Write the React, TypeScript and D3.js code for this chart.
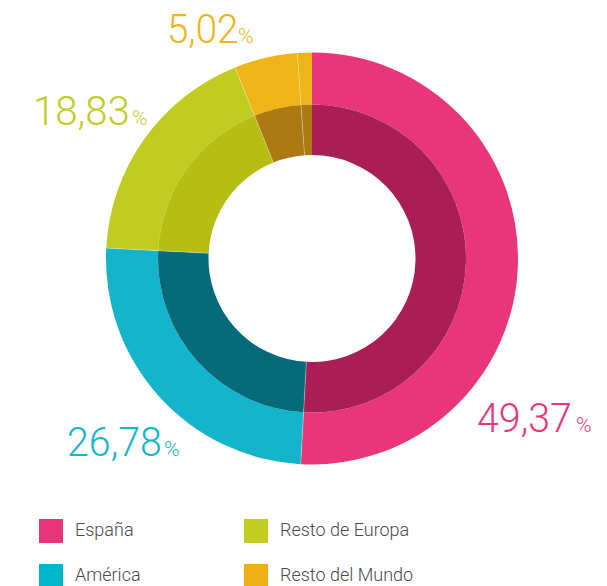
import React from "react";
import * as d3 from "d3";

// Categories and their labelled shares (%)
const categories = ["España", "América", "Resto de Europa", "Resto del Mundo"];
const shares = [49.37, 26.78, 18.83, 5.02];
// Slice sizes as drawn in the picture (Resto del Mundo shows two pieces)
const sliceValues = [50.86, 24.93, 18.1, 4.95, 1.14];
const sliceCategory = [0, 1, 2, 3, 3];

const outerColors = ["#E9367A", "#14B5CB", "#C1CC23", "#EEB418"];
const innerColors = ["#A91F55", "#066A78", "#B6BD13", "#AD7913"];
const legendColors = ["#E8357A", "#00B6CD", "#C2CD23", "#EEB116"];

const W = 607;
const H = 586;
const cx = 312;
const cy = 258.5;
const R_OUT = 206;
const R_MID = 154;
const R_IN = 103.5;

// label layout (left x, baseline y, horizontal squeeze, percent x)
const labelLayout = [
  { x: 477, y: 432, sx: 0.96, px: 576 },
  { x: 67, y: 456, sx: 0.96, px: 164 },
  { x: 33, y: 125, sx: 0.98, px: 132 },
  { x: 167, y: 43, sx: 0.94, px: 238 },
];
const legendLayout = [
  { x: 39, y: 519 },
  { x: 39, y: 564 },
  { x: 244, y: 519 },
  { x: 244, y: 564 },
];

const FONT = "Roboto, 'Open Sans', sans-serif";

export default function App() {
  const pie = d3
    .pie<number>()
    .sort(null)
    .value((d) => d)
    .startAngle(0)
    .endAngle(2 * Math.PI);
  const arcs = pie(sliceValues);
  const outerArc = d3.arc<d3.PieArcDatum<number>>().innerRadius(R_MID).outerRadius(R_OUT);
  const innerArc = d3.arc<d3.PieArcDatum<number>>().innerRadius(R_IN).outerRadius(R_MID);
  const fmt = (v: number) => v.toFixed(2).replace(".", ",");

  return (
    <svg
      width={W}
      height={H}
      style={{ position: "absolute", left: 0, top: 0, background: "#fff" }}
    >
      <g transform={`translate(${cx},${cy})`}>
        {arcs.map((a, i) => (
          <path key={"o" + i} d={outerArc(a) || ""} fill={outerColors[sliceCategory[i]]} />
        ))}
        {arcs.map((a, i) => (
          <path key={"i" + i} d={innerArc(a) || ""} fill={innerColors[sliceCategory[i]]} />
        ))}
        {arcs.map((a, i) => {
          if (i === 0) return null;
          const s = Math.sin(a.startAngle);
          const c = -Math.cos(a.startAngle);
          return (
            <line
              key={"s" + i}
              x1={s * R_IN}
              y1={c * R_IN}
              x2={s * R_OUT}
              y2={c * R_OUT}
              stroke="#ffffff"
              strokeOpacity={0.4}
              strokeWidth={0.8}
            />
          );
        })}
      </g>
      {shares.map((s, i) => {
        const L = labelLayout[i];
        return (
          <g key={"l" + i} fill={outerColors[i]} fontFamily={FONT} fontWeight={300}>
            <g transform={`translate(${L.x},${L.y}) scale(${L.sx},1)`}>
              <text x={0} y={0} fontSize={41}>
                {fmt(s)}
              </text>
            </g>
            <text x={L.px} y={L.y} fontSize={21}>
              %
            </text>
          </g>
        );
      })}
      {categories.map((c, i) => {
        const L = legendLayout[i];
        return (
          <g key={"g" + i}>
            <rect x={L.x} y={L.y} width={24} height={24} fill={legendColors[i]} />
            <text
              x={L.x + 36}
              y={L.y + 17}
              fontSize={18}
              fontFamily={FONT}
              fontWeight={300}
              fill="#4a4a4a"
            >
              {c}
            </text>
          </g>
        );
      })}
    </svg>
  );
}
